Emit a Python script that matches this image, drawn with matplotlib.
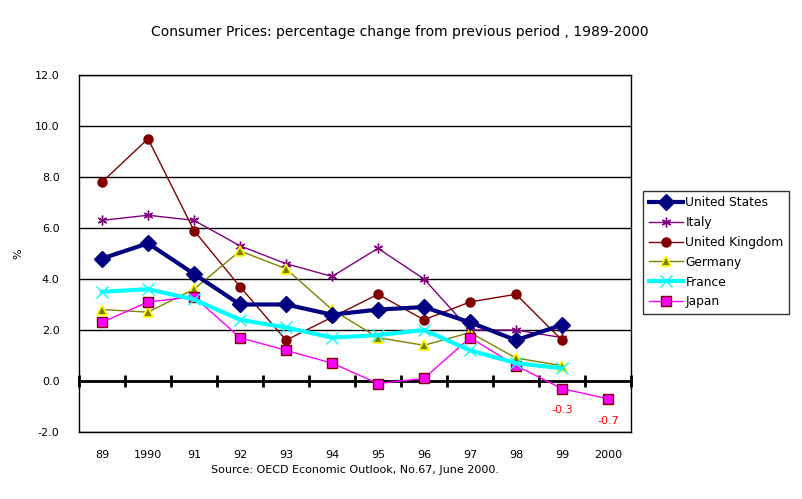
import numpy as np
import matplotlib
matplotlib.use('Agg')
import matplotlib.pyplot as plt

years = ['89', '1990', '91', '92', '93', '94', '95', '96', '97', '98', '99', '2000']

united_states = [4.8, 5.4, 4.2, 3.0, 3.0, 2.6, 2.8, 2.9, 2.3, 1.6, 2.2]
italy = [6.3, 6.5, 6.3, 5.3, 4.6, 4.1, 5.2, 4.0, 2.0, 2.0, 1.7]
united_kingdom = [7.8, 9.5, 5.9, 3.7, 1.6, 2.5, 3.4, 2.4, 3.1, 3.4, 1.6]
germany = [2.8, 2.7, 3.6, 5.1, 4.4, 2.8, 1.7, 1.4, 1.9, 0.9, 0.6]
france = [3.5, 3.6, 3.2, 2.4, 2.1, 1.7, 1.8, 2.0, 1.2, 0.7, 0.5]
japan = [2.3, 3.1, 3.3, 1.7, 1.2, 0.7, -0.1, 0.1, 1.7, 0.6, -0.3, -0.7]

labelled = ['99', '2000']

plt.rcParams['font.family'] = ['DejaVu Sans']

fig = plt.figure(figsize=(8.02, 4.99), dpi=100)
ax = fig.add_axes([0.0985, 0.1343, 0.6883, 0.7154])

x = np.arange(len(years))

ax.plot(x[:len(united_states)], united_states, color='#000080', lw=3,
        marker='D', ms=8, mfc='#000080', mec='#000080', label='United States', zorder=6)
ax.plot(x[:len(italy)], italy, color='#800080', lw=1,
        marker=(6, 2, 0), ms=7, mec='#800080', mew=1, label='Italy', zorder=4)
ax.plot(x[:len(united_kingdom)], united_kingdom, color='#800000', lw=1,
        marker='o', ms=6.5, mfc='#800000', mec='#800000', label='United Kingdom', zorder=4)
ax.plot(x[:len(germany)], germany, color='#808000', lw=1,
        marker='^', ms=6.5, mfc='#808000', mec='#FFFF00', mew=1.2, label='Germany', zorder=4)
ax.plot(x[:len(france)], france, color='#00FFFF', lw=3,
        marker='x', ms=8, mec='#00FFFF', mew=1, label='France', zorder=5)
ax.plot(x[:len(japan)], japan, color='#FF00FF', lw=1,
        marker='s', ms=6.5, mfc='#FF00FF', mec='#800000', mew=1, label='Japan', zorder=4)

for yr in labelled:
    i = years.index(yr)
    ax.annotate(f'{japan[i]:.1f}', (x[i], japan[i]), xytext=(0, -12),
                textcoords='offset points', ha='center', va='top',
                color='#FF0000', fontsize=8)

ax.set_xlim(-0.5, len(years) - 0.5)
ax.set_ylim(-2, 12)
ax.set_yticks(np.arange(-2, 12.1, 2))
ax.set_yticklabels([f'{v:.1f}' for v in np.arange(-2, 12.1, 2)])
ax.yaxis.grid(True, color='black', lw=1)
ax.set_axisbelow(True)
ax.tick_params(axis='y', length=0, pad=14, labelsize=8)

ax.set_xticks(x)
ax.set_xticklabels(years)
ax.tick_params(axis='x', length=0, pad=13, labelsize=8)

for s in ax.spines.values():
    s.set_color('black')
    s.set_linewidth(1)

# zero axis with tick marks between categories
zero = (0 - ax.get_ylim()[0]) / (ax.get_ylim()[1] - ax.get_ylim()[0])
sec = ax.secondary_xaxis(zero)
sec.set_xticks(np.arange(-0.5, len(years), 1))
sec.tick_params(axis='x', direction='inout', length=8, width=2, labelbottom=False, labeltop=False)
sec.spines['bottom'].set_linewidth(2)
sec.spines['top'].set_linewidth(2)

ax.set_ylabel('%', fontsize=8, labelpad=8)

fig.text(0.499, 0.935, 'Consumer Prices: percentage change from previous period , 1989-2000',
         ha='center', va='center', fontsize=10)
fig.text(0.443, 0.058, 'Source: OECD Economic Outlook, No.67, June 2000.',
         ha='center', va='center', fontsize=8)

leg = fig.legend(loc='lower left', bbox_to_anchor=(0.802, 0.371), fontsize=8.8,
                 frameon=True, fancybox=False, edgecolor='black', borderpad=0.45,
                 labelspacing=0.56, handlelength=2.8, handletextpad=0.2, borderaxespad=0)
leg.get_frame().set_linewidth(1)

fig.savefig('out.png', dpi=100)
